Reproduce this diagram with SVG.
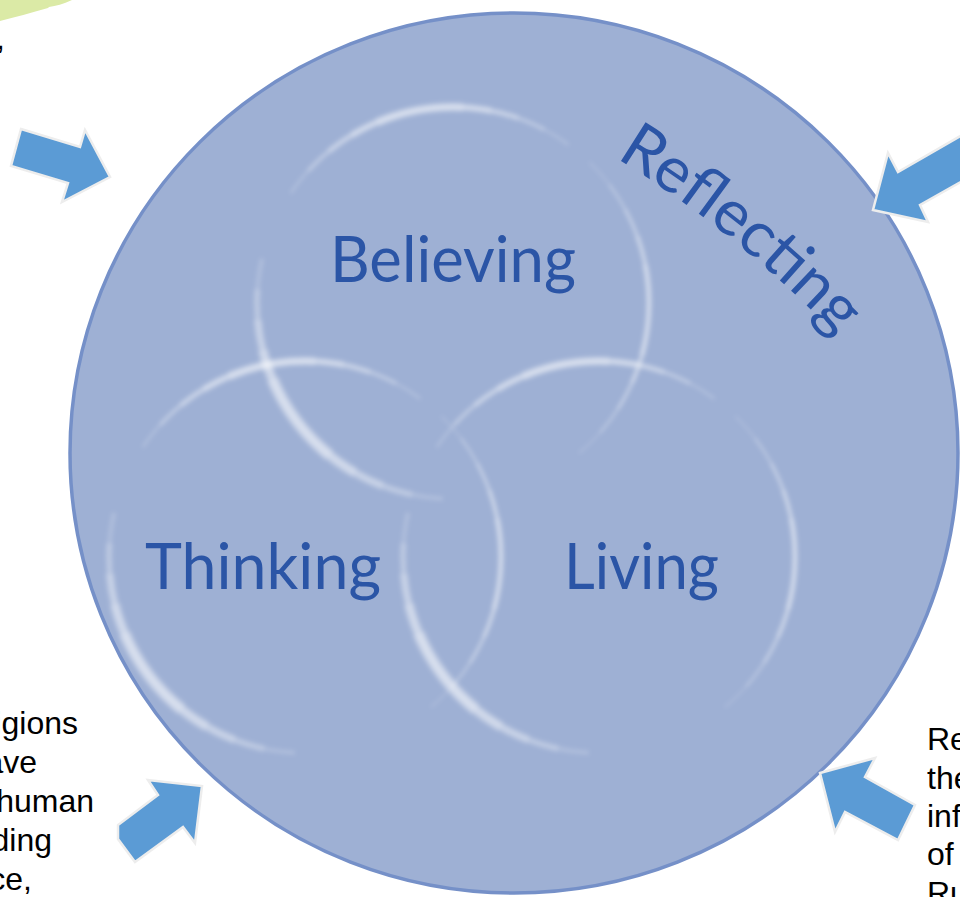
<svg xmlns="http://www.w3.org/2000/svg" xmlns:xlink="http://www.w3.org/1999/xlink" width="960" height="897" viewBox="0 0 960 897">
  <style>
    .label { font-family: Lato, "Open Sans", "DejaVu Sans", sans-serif; font-size: 64px; fill: #2b55a6; }
    .side { font-family: "Liberation Sans", Arial, sans-serif; font-size: 32px; fill: #000000; }
    .arrow { fill: #5b9bd5; stroke: #ededed; stroke-width: 2.5; stroke-linejoin: miter; }
    .ring { fill: none; stroke: #ffffff; stroke-opacity: 0.17; }
    .ring-r { fill: none; stroke: #ffffff; stroke-opacity: 0.14; }
  </style>
  <defs>
    <filter id="soft" x="-20%" y="-20%" width="140%" height="140%">
      <feGaussianBlur stdDeviation="2.2"/>
    </filter>
    <filter id="edge" x="-5%" y="-5%" width="110%" height="110%">
      <feGaussianBlur stdDeviation="0.6"/>
    </filter>
    <!-- glossy highlight ring of one Venn circle (r = 196, circumference 1231.5);
         each arc is built from stacked dashes that get shorter and wider, giving a taper -->
    <g id="gloss" filter="url(#soft)">
      <!-- upper arc -->
      <circle class="ring" r="196" stroke-width="3" stroke-dasharray="314.7 916.8" stroke-dashoffset="-732.1"/>
      <circle class="ring" r="196" stroke-width="4.8" stroke-dasharray="257.9 973.6" stroke-dashoffset="-760.4"/>
      <circle class="ring" r="196" stroke-width="6.5" stroke-dasharray="201.1 1030.4" stroke-dashoffset="-788.8"/>
      <circle class="ring" r="196" stroke-width="8.2" stroke-dasharray="145 1086.5" stroke-dashoffset="-816.9"/>
      <circle class="ring" r="196" stroke-width="10" stroke-dasharray="88.3 1143.2" stroke-dashoffset="-845.3"/>
      <!-- lower-left arc -->
      <circle class="ring" r="196" stroke-width="4.5" stroke-dasharray="342.1 889.4" stroke-dashoffset="-318.1"/>
      <circle class="ring" r="196" stroke-width="7" stroke-dasharray="280.5 951" stroke-dashoffset="-348.9"/>
      <circle class="ring" r="196" stroke-width="9.5" stroke-dasharray="218.9 1012.6" stroke-dashoffset="-379.7"/>
      <circle class="ring" r="196" stroke-width="12" stroke-dasharray="157.4 1074.1" stroke-dashoffset="-410.5"/>
      <circle class="ring" r="196" stroke-width="14" stroke-dasharray="95.8 1135.7" stroke-dashoffset="-441.3"/>
      <!-- right arc -->
      <circle class="ring-r" r="196" stroke-width="2.2" stroke-dasharray="328.4 903.1" stroke-dashoffset="-1074.1"/>
      <circle class="ring-r" r="196" stroke-width="3.4" stroke-dasharray="269.6 961.9" stroke-dashoffset="-1103.6"/>
      <circle class="ring-r" r="196" stroke-width="4.6" stroke-dasharray="210 1021.5" stroke-dashoffset="-1133.3"/>
      <circle class="ring-r" r="196" stroke-width="5.8" stroke-dasharray="151.2 1080.3" stroke-dashoffset="-1162.7"/>
      <circle class="ring-r" r="196" stroke-width="7" stroke-dasharray="91.7 1139.8" stroke-dashoffset="-1192.5"/>
    </g>
    <path id="reflectPath" d="M 616,158 A 1100 1100 0 0 1 852,352"/>
  </defs>

  <rect width="960" height="897" fill="#ffffff"/>

  <!-- corner shape and stray punctuation at the top-left -->
  <path d="M0,0 L72,0 C63,4 56,6 49,7 L48,8 C31,13 15,17 0,21 Z" fill="#dbeaa6"/>
  <text class="side" x="-4" y="49">,</text>

  <!-- outer circle -->
  <g id="reflecting">
    <ellipse cx="514" cy="453" rx="444" ry="440" fill="#9eb0d4" stroke="#7590c8" stroke-width="3.5" filter="url(#edge)"/>
    <text class="label"><textPath xlink:href="#reflectPath" href="#reflectPath" textLength="285" lengthAdjust="spacingAndGlyphs">Reflecting</textPath></text>
  </g>

  <g id="believing">
    <use xlink:href="#gloss" href="#gloss" x="453" y="303"/>
    <text class="label" x="330" y="282" textLength="246" lengthAdjust="spacingAndGlyphs">Believing</text>
  </g>

  <g id="thinking">
    <use xlink:href="#gloss" href="#gloss" x="305" y="557"/>
    <text class="label" x="145" y="589" textLength="236" lengthAdjust="spacingAndGlyphs">Thinking</text>
  </g>

  <g id="living">
    <use xlink:href="#gloss" href="#gloss" x="599" y="557"/>
    <text class="label" x="564" y="589" textLength="155" lengthAdjust="spacingAndGlyphs">Living</text>
  </g>

  <!-- block arrows pointing at the circle -->
  <g id="connectors">
    <polygon class="arrow" points="21,129 80,147 85,130 110,177 62,202 68,183 11,166"/>
    <polygon class="arrow" points="873,210 888,153 898,172 990,119 1010,154 920,205 928,222"/>
    <polygon class="arrow" points="158,795 148,780 202,786 195,843 183,827 135,862 118,839 118,825"/>
    <polygon class="arrow" points="820,773 875,758 865,777 915,805 898,840 845,812 835,832"/>
  </g>

  <!-- side notes -->
  <g id="note-left" text-anchor="end">
    <text class="side" x="78" y="734">igions</text>
    <text class="side" x="37" y="773">ave</text>
    <text class="side" x="94" y="812">human</text>
    <text class="side" x="52" y="851">ding</text>
    <text class="side" x="32" y="890">ce,</text>
  </g>
  <g id="note-right">
    <text class="side" x="927" y="750">Re</text>
    <text class="side" x="927" y="789">the</text>
    <text class="side" x="927" y="827">inf</text>
    <text class="side" x="927" y="865">of</text>
    <text class="side" x="927" y="904">Ru</text>
  </g>
</svg>
